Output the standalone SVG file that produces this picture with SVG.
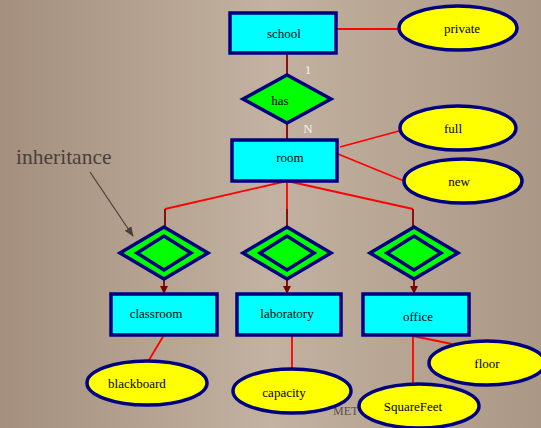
<svg xmlns="http://www.w3.org/2000/svg" width="541" height="428" viewBox="0 0 541 428">
<defs>
<linearGradient id="bg" x1="0" y1="0" x2="1" y2="0">
<stop offset="0" stop-color="#a48f7e"/>
<stop offset="0.5" stop-color="#c3b2a1"/>
<stop offset="1" stop-color="#ab9786"/>
</linearGradient>
<marker id="ah" markerWidth="8" markerHeight="8" refX="7" refY="4" orient="auto" markerUnits="userSpaceOnUse">
<path d="M0,0 L8,4 L0,8 Z" fill="#800000"/>
</marker>
<marker id="ag" markerWidth="10" markerHeight="10" refX="9" refY="5" orient="auto" markerUnits="userSpaceOnUse">
<path d="M0,1 L10,5 L0,9 Z" fill="#4a3f3a"/>
</marker>
</defs>
<style>
text{font-family:"Liberation Serif","Times New Roman",serif;font-size:13px;fill:#000;text-anchor:middle;dominant-baseline:central}
.ent{fill:#00ffff;stroke:#000080;stroke-width:3.5}
.att{fill:#ffff00;stroke:#000080;stroke-width:3.5}
.rel{fill:#00ff00;stroke:#000080;stroke-width:3.5}
.red{stroke:#ff0000;stroke-width:1.8;fill:none}
.dk{stroke:#800000;stroke-width:1.8;fill:none}
.card{fill:#f2f2f2;font-size:13px}
</style>
<rect width="541" height="428" fill="url(#bg)"/>
<text x="333" y="411" style="fill:#5a4f48;font-size:12px;text-anchor:start">MET</text>
<g id="connectors">
<line class="red" x1="336" y1="29" x2="399" y2="29"/>
<line class="dk" x1="287" y1="53" x2="287" y2="75"/>
<line class="dk" x1="287" y1="123" x2="287" y2="140"/>
<line class="red" x1="340" y1="147" x2="399" y2="131"/>
<line class="red" x1="338" y1="154" x2="404" y2="181"/>
<polyline class="red" points="287,181 165,209"/>
<line class="dk" x1="165" y1="209" x2="165" y2="227"/>
<line class="red" x1="287" y1="181" x2="287" y2="209"/>
<line class="dk" x1="287" y1="209" x2="287" y2="227"/>
<polyline class="red" points="287,181 413,209"/>
<line class="dk" x1="413" y1="209" x2="413" y2="227"/>
<line class="dk" x1="164" y1="279" x2="164" y2="293" marker-end="url(#ah)"/>
<line class="dk" x1="287" y1="279" x2="287" y2="293" marker-end="url(#ah)"/>
<line class="dk" x1="414" y1="279" x2="414" y2="293" marker-end="url(#ah)"/>
<line class="red" x1="164" y1="335" x2="149" y2="360"/>
<line class="red" x1="292" y1="335" x2="292" y2="368"/>
<line class="red" x1="413" y1="336" x2="413" y2="383"/>
<line class="red" x1="413" y1="336" x2="452" y2="344"/>
<line x1="90" y1="172" x2="133" y2="236" stroke="#4a3f3a" stroke-width="1.2" marker-end="url(#ag)"/>
</g>
<text x="16" y="157" style="font-size:21.5px;fill:#4a3f3a;text-anchor:start">inheritance</text>
<text class="card" x="308" y="69">1</text>
<text class="card" x="308" y="128">N</text>
<g id="school"><rect class="ent" x="230" y="13" width="106" height="40"/><text x="284" y="33">school</text></g>
<g id="private"><ellipse class="att" cx="458" cy="28" rx="59" ry="22"/><text x="462" y="28">private</text></g>
<g id="has"><polygon class="rel" points="243,99 287,75 331,99 287,123"/><text x="280" y="100">has</text></g>
<g id="room"><rect class="ent" x="232" y="140" width="105" height="41"/><text x="290" y="157">room</text></g>
<g id="full"><ellipse class="att" cx="458" cy="128" rx="58" ry="22"/><text x="453" y="128">full</text></g>
<g id="new"><ellipse class="att" cx="463" cy="181" rx="59" ry="22"/><text x="459" y="181">new</text></g>
<g id="isa1"><polygon class="rel" points="120,253 164,227 208,253 164,279"/><polygon class="rel" points="137,253 164,236 191,253 164,270"/></g>
<g id="isa2"><polygon class="rel" points="243,253 287,227 331,253 287,279"/><polygon class="rel" points="260,253 287,236 314,253 287,270"/></g>
<g id="isa3"><polygon class="rel" points="370,253 414,227 458,253 414,279"/><polygon class="rel" points="387,253 414,236 441,253 414,270"/></g>
<g id="classroom"><rect class="ent" x="111" y="294" width="106" height="41"/><text x="156" y="313">classroom</text></g>
<g id="laboratory"><rect class="ent" x="237" y="294" width="104" height="41"/><text x="287" y="313">laboratory</text></g>
<g id="office"><rect class="ent" x="363" y="294" width="106" height="41"/><text x="418" y="316">office</text></g>
<g id="blackboard"><ellipse class="att" cx="147" cy="383" rx="60" ry="22"/><text x="137" y="383">blackboard</text></g>
<g id="capacity"><ellipse class="att" cx="292" cy="391" rx="59" ry="22"/><text x="284" y="392">capacity</text></g>
<g id="floor"><ellipse class="att" cx="487" cy="363" rx="58" ry="22"/><text x="487" y="363">floor</text></g>
<g id="SquareFeet"><ellipse class="att" cx="419" cy="406" rx="60" ry="22"/><text x="413" y="406">SquareFeet</text></g>
</svg>
